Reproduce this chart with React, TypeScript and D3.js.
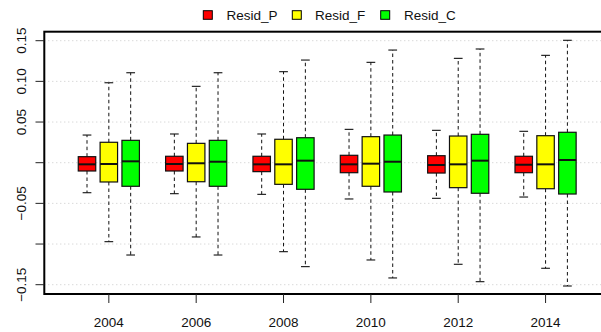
import React from "react";
import * as d3 from "d3";

// Residual distributions per year for three models
const years = ["2004", "2006", "2008", "2010", "2012", "2014"];
const seriesNames = ["Resid_P", "Resid_F", "Resid_C"];
const seriesColors = ["#ff0000", "#ffff00", "#00ff00"];

// [lower whisker, Q1, median, Q3, upper whisker]
const residP = [
  [-0.0369, -0.0102, -0.0020, 0.0074, 0.0340],
  [-0.0381, -0.0102, -0.0016, 0.0079, 0.0353],
  [-0.0389, -0.0110, -0.0020, 0.0079, 0.0353],
  [-0.0446, -0.0123, -0.0020, 0.0091, 0.0410],
  [-0.0438, -0.0127, -0.0028, 0.0086, 0.0398],
  [-0.0422, -0.0123, -0.0025, 0.0079, 0.0386],
];
const residF = [
  [-0.0971, -0.0237, -0.0016, 0.0251, 0.0983],
  [-0.0913, -0.0234, -0.0007, 0.0238, 0.0939],
  [-0.1094, -0.0266, -0.0020, 0.0288, 0.1119],
  [-0.1196, -0.0290, -0.0012, 0.0320, 0.1234],
  [-0.1249, -0.0307, -0.0020, 0.0328, 0.1283],
  [-0.1298, -0.0320, -0.0020, 0.0332, 0.1320],
];
const residC = [
  [-0.1135, -0.0290, 0.0017, 0.0275, 0.1106],
  [-0.1135, -0.0290, 0.0012, 0.0275, 0.1106],
  [-0.1278, -0.0327, 0.0025, 0.0307, 0.1262],
  [-0.1417, -0.0360, 0.0012, 0.0340, 0.1385],
  [-0.1463, -0.0376, 0.0025, 0.0349, 0.1398],
  [-0.1516, -0.0385, 0.0033, 0.0374, 0.1505],
];

const yTicks = [-0.15, -0.1, -0.05, 0, 0.05, 0.1, 0.15];
const yTickLabels = ["0.15", "0.10", "0.05", "\u22120.05", "\u22120.15"];
const yLabelValues = [0.15, 0.1, 0.05, -0.05, -0.15];

const W = 601;
const H = 332;
const FONT = "'Liberation Sans', Arial, Helvetica, sans-serif";

export default function App() {
  const plotLeft = 44.3;
  const plotTop = 31.7;
  const plotBottom = 294;
  const plotRight = 612;

  // boxes sit at unit positions 1,2,3, 5,6,7, ... with a gap between years
  const x = d3.scaleLinear().domain([1, 23]).range([87, 567.4]);
  const y = d3.scaleLinear().domain([0, 0.15]).range([162.7, 40.7]);
  const unit = x(2) - x(1);
  const boxW = unit * 0.8;
  const capW = boxW / 2;

  const allSeries = [residP, residF, residC];

  const boxes: React.ReactNode[] = [];
  years.forEach((yr, g) => {
    allSeries.forEach((ser, s) => {
      const [lo, q1, med, q3, hi] = ser[g];
      const cx = x(1 + g * 4 + s);
      const key = `${yr}-${s}`;
      boxes.push(
        <g key={key}>
          <line x1={cx} x2={cx} y1={y(q3)} y2={y(hi)} stroke="#111" strokeWidth={1} strokeDasharray="3.5,3" />
          <line x1={cx} x2={cx} y1={y(q1)} y2={y(lo)} stroke="#111" strokeWidth={1} strokeDasharray="3.5,3" />
          <line x1={cx - capW / 2} x2={cx + capW / 2} y1={y(hi)} y2={y(hi)} stroke="#111" strokeWidth={1.1} />
          <line x1={cx - capW / 2} x2={cx + capW / 2} y1={y(lo)} y2={y(lo)} stroke="#111" strokeWidth={1.1} />
          <rect
            x={cx - boxW / 2}
            y={y(q3)}
            width={boxW}
            height={y(q1) - y(q3)}
            fill={seriesColors[s]}
            stroke="#111"
            strokeWidth={1.2}
          />
          <line x1={cx - boxW / 2} x2={cx + boxW / 2} y1={y(med)} y2={y(med)} stroke="#111" strokeWidth={2} />
        </g>
      );
    });
  });

  const legendItems = [
    { sq: 203.3, tx: 226.5 },
    { sq: 292.3, tx: 315 },
    { sq: 380.7, tx: 404 },
  ];

  return (
    <svg
      width={W}
      height={H}
      style={{ position: "absolute", left: 0, top: 0, background: "#fff" }}
      fontFamily={FONT}
    >
      <rect x={0} y={0} width={W} height={H} fill="#fff" />

      {/* horizontal grid */}
      {yTicks.map((t) => (
        <line
          key={`g${t}`}
          x1={plotLeft}
          x2={W}
          y1={y(t)}
          y2={y(t)}
          stroke="#c8c8c8"
          strokeWidth={1}
          strokeDasharray="1,3"
        />
      ))}

      {boxes}

      {/* frame */}
      <rect
        x={plotLeft}
        y={plotTop}
        width={plotRight - plotLeft}
        height={plotBottom - plotTop}
        fill="none"
        stroke="#000"
        strokeWidth={2}
      />

      {/* y axis */}
      {yTicks.map((t) => (
        <line key={`yt${t}`} x1={35.5} x2={plotLeft} y1={y(t)} y2={y(t)} stroke="#222" strokeWidth={1} />
      ))}
      {yLabelValues.map((v, i) => (
        <text
          key={`yl${v}`}
          transform={`translate(25.5,${y(v)}) rotate(-90)`}
          textAnchor="middle"
          fontSize={13.5}
          fill="#111"
        >
          {yTickLabels[i]}
        </text>
      ))}

      {/* x axis */}
      {years.map((yr, g) => {
        const cx = x(2 + g * 4);
        return (
          <g key={`xt${yr}`}>
            <line x1={cx} x2={cx} y1={plotBottom} y2={303} stroke="#222" strokeWidth={1} />
            <text x={cx} y={327} textAnchor="middle" fontSize={13.5} fill="#111">
              {yr}
            </text>
          </g>
        );
      })}

      {/* legend */}
      {legendItems.map((it, i) => (
        <g key={seriesNames[i]}>
          <rect x={it.sq} y={10.7} width={9} height={8.6} fill={seriesColors[i]} stroke="#000" strokeWidth={1} />
          <text x={it.tx} y={19.5} fontSize={13.5} fill="#111">
            {seriesNames[i]}
          </text>
        </g>
      ))}
    </svg>
  );
}
